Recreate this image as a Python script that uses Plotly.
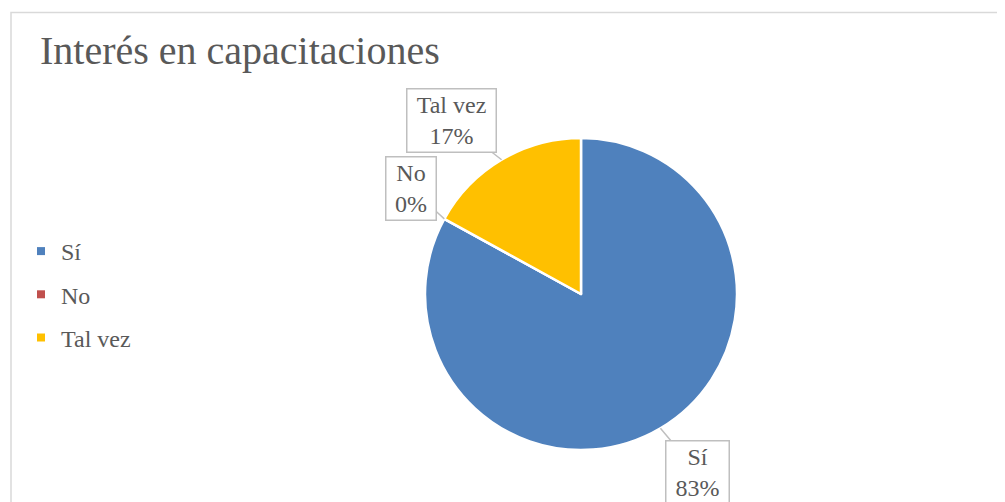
import math
import plotly.graph_objects as go

# ---- data ----
categories = ["Sí", "No", "Tal vez"]
values = [83, 0, 17]
colors = ["#4F81BD", "#C0504D", "#FFC000"]
title_text = "Interés en capacitaciones"

# ---- layout constants (screen px; page body has an 8px margin) ----
OFF = 8
W, H = 1005 - OFF, 502 - OFF
CX, CY, R = 581 - OFF, 294 - OFF, 156   # pie centre / radius in figure px
FONT = "Liberation Serif"
TXT = "#595959"
# label-box offsets (px) from the leader tip
LABEL_OFFSETS = {"Sí": (37, 44), "No": (-33, -30), "Tal vez": (-50, -39)}
LABEL_WIDTH = {"Sí": 60, "No": 47, "Tal vez": 86}


def px(x):
    return x / W


def py(y):
    return 1 - y / H


fig = go.Figure()
fig.add_trace(go.Pie(
    labels=categories, values=values, sort=False, direction="clockwise",
    rotation=0, textinfo="none", hoverinfo="label+percent",
    marker=dict(colors=colors, line=dict(color="white", width=2.5)),
    domain=dict(x=[px(CX - R), px(CX + R)], y=[py(CY + R), py(CY - R)]),
    showlegend=False,
))

# legend entries
for c, col in zip(categories, colors):
    fig.add_trace(go.Scatter(x=[None], y=[None], mode="markers", name=c, legendgroup=c,
                             marker=dict(symbol="square", size=8, color=col)))

# data labels with leader lines, positioned from the slice angles
total = sum(values)
cum = 0
for c, v in zip(categories, values):
    mid = (cum + v / 2) / total * 2 * math.pi
    cum += v
    tx = CX + R * math.sin(mid)
    ty = CY - R * math.cos(mid)
    pct = round(v / total * 100)
    ax, ay = LABEL_OFFSETS[c]
    fig.add_annotation(
        x=px(tx), y=py(ty), xref="paper", yref="paper",
        text=f"{c}<br>{pct}%", showarrow=True, arrowhead=0, arrowwidth=1.5,
        arrowcolor="#BFBFBF", standoff=0, ax=ax, ay=ay,
        font=dict(family=FONT, size=24, color=TXT),
        bordercolor="#BFBFBF", borderwidth=1.5, borderpad=1, bgcolor="white",
        width=LABEL_WIDTH[c], height=60,
    )

fig.add_shape(type="rect", xref="paper", yref="paper",
              x0=px(11 - OFF), x1=1.02, y0=-0.05, y1=py(12.5 - OFF),
              line=dict(color="#D9D9D9", width=1.5), layer="below")

fig.update_layout(
    width=W, height=H, margin=dict(l=0, r=0, t=0, b=0),
    paper_bgcolor="white", plot_bgcolor="white",
    title=dict(text=title_text, x=px(40 - OFF), xanchor="left", y=py(28), yanchor="top",
               font=dict(family=FONT, size=40, color=TXT)),
    xaxis=dict(visible=False), yaxis=dict(visible=False),
    legend=dict(x=px(21 - OFF), y=py(221), xanchor="left", yanchor="top",
                font=dict(family=FONT, size=24, color=TXT), tracegroupgap=9,
                bgcolor="rgba(0,0,0,0)"),
    showlegend=True,
)

fig.write_html("out.html")
